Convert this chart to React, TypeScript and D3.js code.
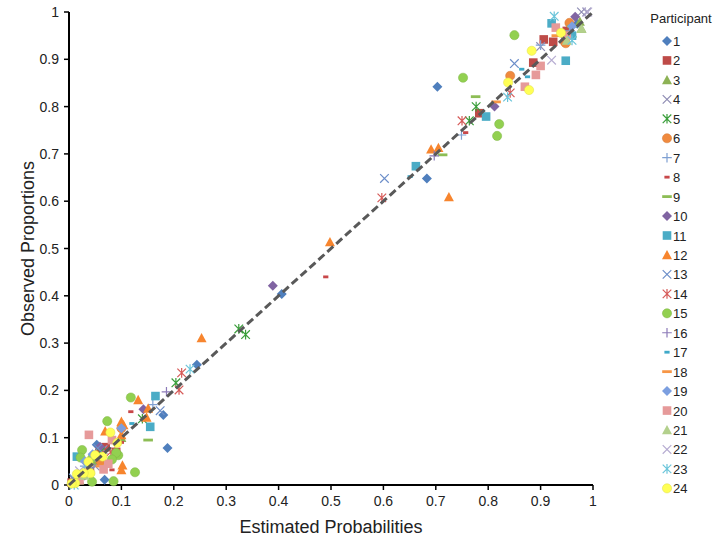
import React from "react";
import * as d3 from "d3";

// estimated probability, observed proportion per participant
const p1 = [[0.703, 0.842], [0.683, 0.648], [0.406, 0.404], [0.244, 0.254], [0.18, 0.148], [0.188, 0.078], [0.068, 0.011], [0.053, 0.085], [0.97, 0.975], [0.015, 0.01], [0.06, 0.072]];
const p2 = [[0.783, 0.786], [0.886, 0.893], [0.906, 0.942], [0.924, 0.937], [0.95, 0.96], [0.07, 0.08], [0.09, 0.07], [0.04, 0.03], [0.005, 0.005], [0.058, 0.068]];
const p3 = [[0.975, 0.98], [0.978, 0.965], [0.96, 0.955], [0.02, 0.01], [0.05, 0.05], [0.1, 0.1]];
const p4 = [[0.978, 1.0], [0.988, 1.0], [0.9, 0.927], [0.05, 0.04], [0.01, 0.01], [0.065, 0.075]];
const p5 = [[0.324, 0.33], [0.337, 0.318], [0.777, 0.8], [0.764, 0.77], [0.204, 0.216], [0.06, 0.07], [0.14, 0.14]];
const p6 = [[0.842, 0.865], [0.946, 0.937], [0.955, 0.977], [0.948, 0.934], [0.1, 0.12], [0.06, 0.05], [0.02, 0.02]];
const p7 = [[0.749, 0.74], [0.9, 0.93], [0.03, 0.04], [0.16, 0.17], [0.955, 0.96]];
const p8 = [[0.49, 0.44], [0.757, 0.745], [0.118, 0.155], [0.082, 0.032], [0.1, 0.09]];
const p9 = [[0.776, 0.821], [0.713, 0.698], [0.151, 0.095], [0.96, 0.97], [0.05, 0.06]];
const p10 = [[0.389, 0.421], [0.812, 0.8], [0.966, 0.99], [0.142, 0.16], [0.059, 0.081], [0.03, 0.02]];
const p11 = [[0.662, 0.674], [0.796, 0.779], [0.921, 0.976], [0.948, 0.897], [0.165, 0.188], [0.155, 0.123], [0.015, 0.06], [0.96, 0.95]];
const p12 = [[0.725, 0.609], [0.498, 0.514], [0.253, 0.311], [0.691, 0.71], [0.705, 0.713], [0.132, 0.18], [0.151, 0.162], [0.148, 0.143], [0.1, 0.134], [0.069, 0.114], [0.1, 0.106], [0.102, 0.042], [0.1, 0.032], [0.104, 0.127]];
const p13 = [[0.602, 0.648], [0.85, 0.891], [0.174, 0.157], [0.04, 0.03], [0.055, 0.078], [0.008, 0.015]];
const p14 = [[0.597, 0.607], [0.75, 0.77], [0.215, 0.237], [0.21, 0.201], [0.842, 0.829], [0.08, 0.07]];
const p15 = [[0.85, 0.951], [0.752, 0.861], [0.821, 0.763], [0.817, 0.738], [0.118, 0.185], [0.073, 0.135], [0.094, 0.063], [0.09, 0.068], [0.126, 0.027], [0.085, 0.008], [0.025, 0.074], [0.022, 0.058], [0.044, 0.056], [0.082, 0.054], [0.044, 0.007]];
const p16 = [[0.697, 0.696], [0.186, 0.197], [0.94, 0.95], [0.05, 0.06]];
const p17 = [[0.651, 0.652], [0.864, 0.879], [0.875, 0.863], [0.02, 0.02], [0.12, 0.13]];
const p18 = [[0.815, 0.81], [0.93, 0.95], [0.06, 0.04]];
const p19 = [[0.96, 0.97], [0.1, 0.12], [0.03, 0.05], [0.045, 0.065]];
const p20 = [[0.929, 0.967], [0.9, 0.886], [0.891, 0.867], [0.87, 0.842], [0.038, 0.106], [0.082, 0.095], [0.066, 0.033], [0.02, 0.01], [0.95, 0.95], [0.075, 0.045]];
const p21 = [[0.978, 0.965], [0.95, 0.94], [0.03, 0.02]];
const p22 = [[0.921, 0.898], [0.99, 1.0], [0.02, 0.03]];
const p23 = [[0.926, 0.991], [0.837, 0.82], [0.231, 0.245], [0.96, 0.94], [0.01, 0.0], [0.035, 0.045]];
const p24 = [[0.883, 0.918], [0.838, 0.851], [0.878, 0.835], [0.939, 0.956], [0.079, 0.111], [0.092, 0.089], [0.037, 0.049], [0.041, 0.025], [0.028, 0.025], [0.015, 0.023], [0.012, 0.004], [0.064, 0.06], [0.05, 0.063], [0.005, 0.003]];

const participants = ["1", "2", "3", "4", "5", "6", "7", "8", "9", "10", "11", "12", "13", "14", "15", "16", "17", "18", "19", "20", "21", "22", "23", "24"];
const points = [p1, p2, p3, p4, p5, p6, p7, p8, p9, p10, p11, p12, p13, p14, p15, p16, p17, p18, p19, p20, p21, p22, p23, p24];
const colors = ["#4f7fbd", "#be4b48", "#8db255", "#8e8cb3", "#3a9e3a", "#f08a3e", "#7fa0d2", "#c8484a", "#8dbd55", "#8064a2", "#4bacc6", "#f7852e", "#6c8ec9", "#d65a58", "#92d050", "#8c7ab8", "#3fa9c8", "#f79646", "#7c9fe0", "#e69a9a", "#b3d08c", "#b7add2", "#6bc5da", "#ffff55"];
const shapes = ["diamond", "square", "triangle", "x", "star", "circle", "plus", "sdash", "ldash"];
const ticks = [0, 0.1, 0.2, 0.3, 0.4, 0.5, 0.6, 0.7, 0.8, 0.9, 1];

const Marker = ({ shape, color, x, y }) => {
  const t = `translate(${x},${y})`;
  if (shape === "diamond") return <path transform={t} d="M0,-5L5,0L0,5L-5,0Z" fill={color} />;
  if (shape === "square") return <rect transform={t} x={-4.3} y={-4.3} width={8.6} height={8.6} fill={color} />;
  if (shape === "triangle") return <path transform={t} d="M0,-5L5,4.3L-5,4.3Z" fill={color} />;
  if (shape === "circle") return <circle transform={t} r={4.6} fill={color} stroke={d3.color(color).darker(0.4)} strokeWidth={0.5} />;
  if (shape === "x") return <path transform={t} d="M-4.3,-4.3L4.3,4.3M-4.3,4.3L4.3,-4.3" stroke={color} strokeWidth={1.2} fill="none" />;
  if (shape === "star") return <path transform={t} d="M-4.3,-4.3L4.3,4.3M-4.3,4.3L4.3,-4.3M0,-4.8L0,4.8" stroke={color} strokeWidth={1.2} fill="none" />;
  if (shape === "plus") return <path transform={t} d="M-4.8,0L4.8,0M0,-4.8L0,4.8" stroke={color} strokeWidth={1.2} fill="none" />;
  if (shape === "sdash") return <rect transform={t} x={-2.6} y={-1.4} width={5.2} height={2.8} fill={color} />;
  return <rect transform={t} x={-4.8} y={-1.4} width={9.6} height={2.8} fill={color} />;
};

export default function App() {
  const x = d3.scaleLinear().domain([0, 1]).range([69, 593]);
  const y = d3.scaleLinear().domain([0, 1]).range([485, 12]);
  const font = "Liberation Sans, Arial, sans-serif";

  return (
    <svg width={714} height={542} style={{ position: "absolute", left: 0, top: 0, background: "#fff" }} fontFamily={font}>
      {/* axes */}
      <line x1={x(0)} x2={x(0)} y1={y(0)} y2={y(1)} stroke="#000" strokeWidth={2} />
      <line x1={x(0)} x2={x(1)} y1={y(0)} y2={y(0)} stroke="#000" strokeWidth={2} />
      {ticks.map((t) => (
        <g key={"y" + t}>
          <line x1={x(0) - 5} x2={x(0)} y1={y(t)} y2={y(t)} stroke="#000" strokeWidth={1.5} />
          <text x={x(0) - 10} y={y(t) + 5} textAnchor="end" fontSize={14} fill="#222">{String(t)}</text>
        </g>
      ))}
      {ticks.map((t) => (
        <g key={"x" + t}>
          <line x1={x(t)} x2={x(t)} y1={y(0)} y2={y(0) + 5} stroke="#000" strokeWidth={1.5} />
          <text x={x(t)} y={y(0) + 21} textAnchor="middle" fontSize={14} fill="#222">{String(t)}</text>
        </g>
      ))}
      <text x={331} y={533} textAnchor="middle" fontSize={18} fill="#222">Estimated Probabilities</text>
      <text transform={`translate(34,${(y(0) + y(1)) / 2}) rotate(-90)`} textAnchor="middle" fontSize={18} fill="#222">Observed Proportions</text>

      {/* points */}
      {points.map((pts, i) => (
        <g key={"s" + i}>
          {pts.map((d, j) => (
            <Marker key={j} shape={shapes[i % 9]} color={colors[i]} x={x(d[0])} y={y(d[1])} />
          ))}
        </g>
      ))}

      {/* identity line */}
      <line x1={x(0)} y1={y(0)} x2={x(1)} y2={y(1)} stroke="#595959" strokeWidth={3} strokeDasharray="8,4" />

      {/* legend */}
      <text x={681} y={23} textAnchor="middle" fontSize={13} fill="#222">Participant</text>
      {participants.map((p, i) => {
        const ly = 41 + i * 19.45;
        return (
          <g key={"l" + p}>
            <Marker shape={shapes[i % 9]} color={colors[i]} x={667} y={ly} />
            <text x={673} y={ly + 5} fontSize={13} fill="#222">{p}</text>
          </g>
        );
      })}
    </svg>
  );
}
